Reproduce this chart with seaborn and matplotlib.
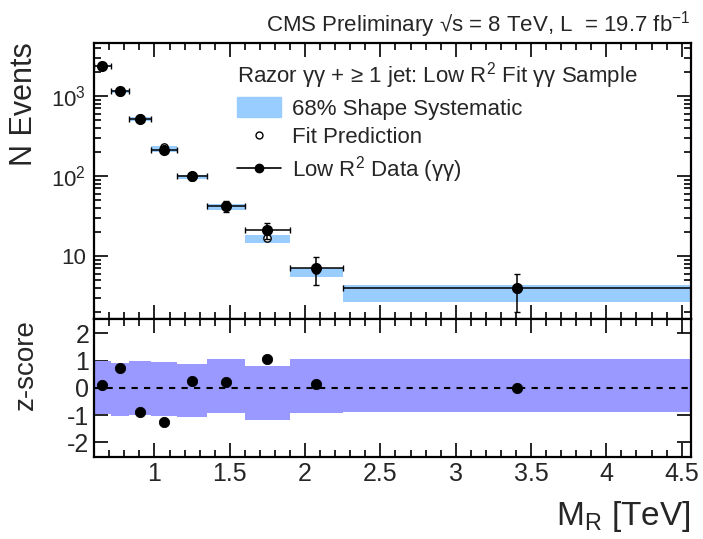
import numpy as np
import matplotlib
matplotlib.use("Agg")
import matplotlib.pyplot as plt
import seaborn as sns
from matplotlib.patches import Patch
from matplotlib.lines import Line2D
from matplotlib.ticker import FixedLocator, MultipleLocator, FuncFormatter, LogLocator, NullFormatter

# bin edges in M_R [TeV]
bin_edges = [0.6, 0.71, 0.83, 0.98, 1.15, 1.35, 1.6, 1.9, 2.25, 4.56]

# observed events (low R^2, gamma gamma) and errors
data_counts = [2400, 1150, 510, 210, 100, 42, 21, 7, 4]
data_err = [49, 34, 23, 14.5, 10, 6.5, 4.6, 2.6, 2.0]

# fit prediction and 68% shape systematic band
fit_pred = [2390, 1130, 530, 228, 97, 41, 16.6, 6.6, 3.9]
band_lo = [2330, 1085, 490, 200, 92, 37.6, 14.7, 5.4, 2.7]
band_hi = [2460, 1175, 545, 240, 104, 44.3, 18.5, 7.1, 4.4]

# z-score panel
z_scores = [0.12, 0.74, -0.88, -1.26, 0.26, 0.21, 1.05, 0.15, 0.01]
z_band_hi = [1.0, 0.92, 1.0, 0.93, 0.89, 1.04, 0.79, 1.04, 1.07]
z_band_lo = [-0.95, -1.04, -1.0, -1.04, -1.07, -0.93, -1.18, -0.93, -0.89]

sns.set_style("ticks")
plt.rcParams["font.family"] = ["Liberation Sans", "DejaVu Sans"]
plt.rcParams["mathtext.fontset"] = "custom"
plt.rcParams["mathtext.rm"] = "Liberation Sans"
plt.rcParams["mathtext.it"] = "Liberation Sans:italic"
plt.rcParams["mathtext.bf"] = "Liberation Sans:bold"
plt.rcParams["axes.unicode_minus"] = False

edges = np.array(bin_edges)
centers = (edges[:-1] + edges[1:]) / 2
halfw = (edges[1:] - edges[:-1]) / 2

fig = plt.figure(figsize=(7.03, 5.39), dpi=100)
ax1 = fig.add_axes([0.134, 0.408, 0.8485, 0.5128])
ax2 = fig.add_axes([0.134, 0.1527, 0.8485, 0.2553])

# ---- top panel
ax1.fill_between(edges, list(band_lo) + [band_lo[-1]], list(band_hi) + [band_hi[-1]],
                 step="post", color="#99ccff", lw=0, zorder=1)
sns.scatterplot(x=centers, y=fit_pred, ax=ax1, marker="o", s=28,
                facecolor="white", edgecolor="black", linewidth=1, zorder=3)
ax1.errorbar(centers, data_counts, xerr=halfw, yerr=data_err, fmt="o", color="black",
             ms=7, elinewidth=1.1, capsize=2, capthick=1, zorder=4)

ax1.set_yscale("log")
ax1.set_xlim(0.6, 4.56)
ax1.set_ylim(1.63, 4630)
ax1.yaxis.set_major_locator(FixedLocator([10, 100, 1000]))
ax1.yaxis.set_minor_locator(LogLocator(base=10, subs=np.arange(2, 10)))
ax1.yaxis.set_minor_formatter(NullFormatter())


def log_fmt(v, pos):
    if abs(v - 10) < 1e-6:
        return "10"
    return "$10^{%d}$" % int(round(np.log10(v)))


ax1.yaxis.set_major_formatter(FuncFormatter(log_fmt))
ax1.set_ylabel("N Events", fontsize=22, loc="top")
ax1.yaxis.set_label_coords(-0.093, 1.0)
ax1.tick_params(labelbottom=False)

handles = [
    Patch(facecolor="#99ccff", edgecolor="#99ccff"),
    Line2D([], [], marker="o", ls="none", mfc="white", mec="black", ms=5),
    Line2D([], [], marker="o", color="black", ms=6, lw=1.2),
]
labels = ["68% Shape Systematic", "Fit Prediction", "Low R$^2$ Data (γγ)"]
leg = ax1.legend(handles, labels, loc="upper left", bbox_to_anchor=(0.225, 0.97),
                 frameon=False, fontsize=16, title_fontsize=16, alignment="left",
                 title="Razor γγ + ≥ 1 jet: Low R$^2$ Fit γγ Sample",
                 handlelength=1.95, handleheight=1.0, handletextpad=0.5,
                 labelspacing=0.28, borderaxespad=0)

fig.text(0.982, 0.925, "CMS Preliminary √s = 8 TeV, L  = 19.7 fb$^{-1}$",
         ha="right", va="bottom", fontsize=16)

# ---- bottom panel
ax2.fill_between(edges, list(z_band_lo) + [z_band_lo[-1]], list(z_band_hi) + [z_band_hi[-1]],
                 step="post", color="#9999ff", lw=0, zorder=1)
ax2.axhline(0, color="black", ls=(0, (3, 3)), lw=1.5, zorder=2)
sns.scatterplot(x=centers, y=z_scores, ax=ax2, color="black", s=55,
                edgecolor="black", zorder=3)
ax2.set_xlim(0.6, 4.56)
ax2.set_ylim(-2.52, 2.52)
ax2.yaxis.set_major_locator(FixedLocator([-2, -1, 0, 1, 2]))
ax2.set_yticklabels(["-2", "-1", "0", "1", "2"])
ax2.xaxis.set_major_locator(MultipleLocator(0.5))
ax2.xaxis.set_minor_locator(MultipleLocator(0.1))
ax2.xaxis.set_major_formatter(FuncFormatter(lambda v, p: "%g" % v))
ax1.xaxis.set_major_locator(MultipleLocator(0.5))
ax1.xaxis.set_minor_locator(MultipleLocator(0.1))
ax2.set_ylabel("z-score", fontsize=20, loc="top")
ax2.yaxis.set_label_coords(-0.093, 1.0)
ax2.set_xlabel("M$_\\mathrm{R}$ [TeV]", fontsize=24, loc="right", labelpad=10)

for ax in (ax1, ax2):
    ax.tick_params(which="both", direction="in", top=True, right=True,
                   labelsize=18, width=1.2, color="black")
    ax.tick_params(which="major", length=10)
    ax.tick_params(which="minor", length=5)
    for s in ax.spines.values():
        s.set_linewidth(1.6)
        s.set_color("black")
ax1.tick_params(axis="y", which="major", pad=6, labelsize=16)
ax2.tick_params(axis="y", which="minor", left=False, right=False)

fig.savefig("out.png", dpi=100)
